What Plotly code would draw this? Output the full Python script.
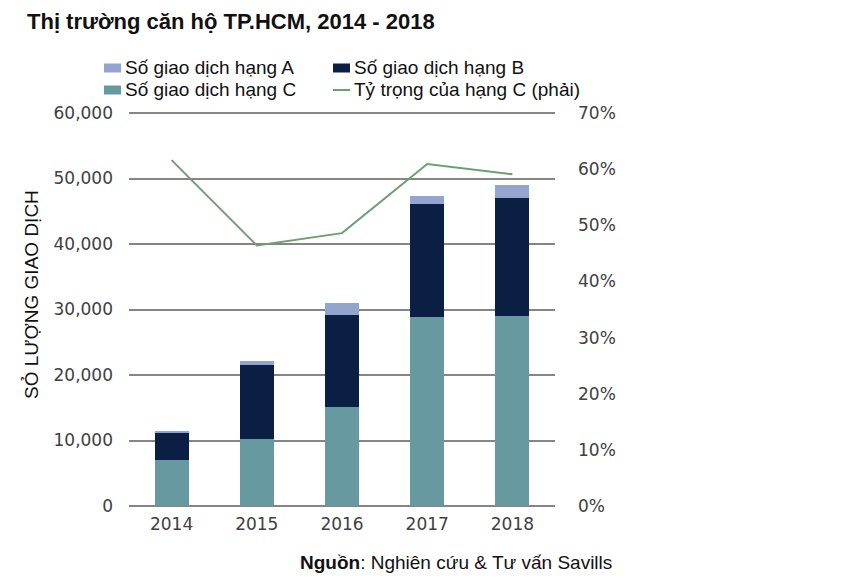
import plotly.graph_objects as go

years = ["2014", "2015", "2016", "2017", "2018"]
hang_a = [250, 700, 1800, 1300, 2000]
hang_b = [4100, 11200, 14050, 17200, 18000]
hang_c = [7100, 10300, 15100, 28900, 29050]
ty_trong_c = [61.6, 46.4, 48.6, 60.9, 59.1]

name_a = "Số giao dịch hạng A"
name_b = "Số giao dịch hạng B"
name_c = "Số giao dịch hạng C"
name_line = "Tỷ trọng của hạng C (phải)"

left_ticks = [0, 10000, 20000, 30000, 40000, 50000, 60000]
left_labels = ["0", "10,000", "20,000", "30,000", "40,000", "50,000", "60,000"]
right_ticks = [0, 10, 20, 30, 40, 50, 60, 70]
right_labels = ["0%", "10%", "20%", "30%", "40%", "50%", "60%", "70%"]

col_a = "#93a5cf"
col_b = "#0b1f45"
col_c = "#6699a0"
col_line = "#6e9e72"

W, H = 868, 585
# plot area padded by 2px top and bottom so the edge gridlines are drawn
PAD = 2
L, R, T, B = 129, 313, 113 - PAD, 79 - PAD
PW, PH = W - L - R, H - T - B
INNER = PH - 2 * PAD  # pixel height between 0 and max value

y_max, y2_max = 60000, 70
y_pad = PAD * y_max / INNER
y2_pad = PAD * y2_max / INNER


def px(x):
    return (x - L) / PW


def py(y):
    return (H - B - y) / PH


fig = go.Figure()
fig.add_trace(go.Bar(x=years, y=hang_c, name=name_c, marker_color=col_c, marker_line_width=0))
fig.add_trace(go.Bar(x=years, y=hang_b, name=name_b, marker_color=col_b, marker_line_width=0))
fig.add_trace(go.Bar(x=years, y=hang_a, name=name_a, marker_color=col_a, marker_line_width=0))
fig.add_trace(go.Scatter(x=years, y=ty_trong_c, name=name_line, mode="lines",
                         line=dict(color=col_line, width=2), yaxis="y2"))

tick_font = dict(family="DejaVu Sans", size=17, color="#404040")
txt_font = dict(family="Liberation Sans, Arial", size=19, color="#111111")

# legend drawn as swatches + text (two rows, two columns)
legend_items = [
    (name_a, col_a, "bar", 104, 68),
    (name_b, col_b, "bar", 333, 68),
    (name_c, col_c, "bar", 104, 90),
    (name_line, col_line, "line", 333, 90),
]
shapes = []
annotations = []
for name, col, kind, x0, yc in legend_items:
    if kind == "bar":
        shapes.append(dict(type="rect", xref="paper", yref="paper",
                           x0=px(x0), x1=px(x0 + 17), y0=py(yc + 4.5), y1=py(yc - 4.5),
                           fillcolor=col, line=dict(width=0)))
    else:
        shapes.append(dict(type="line", xref="paper", yref="paper",
                           x0=px(x0), x1=px(x0 + 17), y0=py(yc), y1=py(yc),
                           line=dict(color=col, width=2)))
    annotations.append(dict(text=name, xref="paper", yref="paper", x=px(x0 + 19), y=py(yc),
                            xanchor="left", yanchor="middle", showarrow=False, font=txt_font))

annotations.append(dict(text="<b>Nguồn</b>: Nghiên cứu & Tư vấn Savills", xref="paper", yref="paper",
                        x=px(298), y=py(562), xanchor="left", yanchor="middle", showarrow=False,
                        font=txt_font))
annotations.append(dict(text="SỎ LƯỢNG GIAO DỊCH", xref="paper", yref="paper",
                        x=px(31), y=py(295), xanchor="center", yanchor="middle", showarrow=False,
                        textangle=-90, font=txt_font))

fig.update_layout(
    width=W, height=H,
    margin=dict(l=L, r=R, t=T, b=B, autoexpand=False),
    paper_bgcolor="white", plot_bgcolor="white",
    barmode="stack", bargap=0.6,
    showlegend=False,
    title=dict(text="<b>Thị trường căn hộ TP.HCM, 2014 - 2018</b>",
               font=dict(family="Liberation Sans, Arial", size=22, color="#111111"),
               x=27 / W, xanchor="left", xref="container", y=1 - 21 / H, yanchor="middle", yref="container"),
    xaxis=dict(type="category", tickfont=tick_font, showgrid=False, showline=False,
               ticks="", ticklabelstandoff=4),
    yaxis=dict(range=[-y_pad, y_max + y_pad], tickvals=left_ticks, ticktext=left_labels, tickfont=tick_font,
               showgrid=True, gridcolor="#858585", gridwidth=2, zeroline=False, showline=False,
               ticks="", ticklabelstandoff=15),
    yaxis2=dict(range=[-y2_pad, y2_max + y2_pad], overlaying="y", side="right", tickvals=right_ticks,
                ticktext=right_labels, tickfont=tick_font, showgrid=False, zeroline=False, showline=False,
                ticks="", ticklabelstandoff=22),
    shapes=shapes,
    annotations=annotations,
)

fig.write_html("out.html")
